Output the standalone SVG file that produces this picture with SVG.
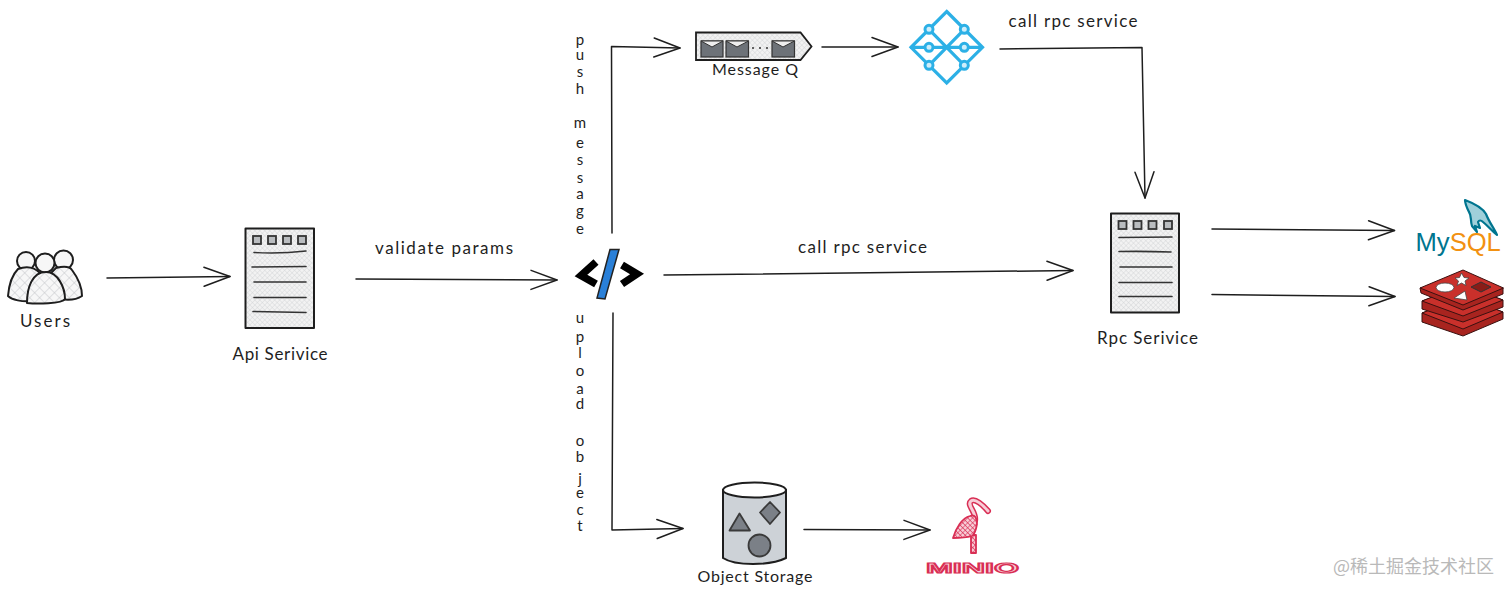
<svg xmlns="http://www.w3.org/2000/svg" width="1512" height="596" viewBox="0 0 1512 596">
<style>
.c{fill:none;stroke:#1e1e1e;stroke-width:1.5;stroke-linecap:round;stroke-linejoin:round;marker-end:url(#arr)}
.t{font-family:"Lato","Open Sans","Noto Sans",sans-serif;font-size:17px;fill:#1e1e1e;text-anchor:middle}
.v{font-size:15px}
.o{stroke:#1e1e1e;stroke-width:2;stroke-linejoin:round}
.sq{fill:#b9bcbf;stroke:#333;stroke-width:1.8}
.ln{stroke:#333;stroke-width:1.6;stroke-linecap:round;fill:none}
.blue{fill:none;stroke:#2cb0e6;stroke-width:3.200}
.env{fill:#6d7278;stroke:#333;stroke-width:1.2}
.flap{fill:#eee;stroke:#333;stroke-width:1}
.shape{fill:#7b8087;stroke:#3a3a3a;stroke-width:1.8;stroke-linejoin:round}
.red1{fill:#c9302b;stroke:#3a1110;stroke-width:1;stroke-linejoin:round}
.red2{fill:#a8241f;stroke:#3a1110;stroke-width:1;stroke-linejoin:round}
.pink{stroke:#d92e54;stroke-width:1.8;stroke-linejoin:round;stroke-linecap:round}
</style>
<defs>
<marker id="arr" markerUnits="userSpaceOnUse" markerWidth="30" markerHeight="26" refX="27" refY="12" orient="auto" overflow="visible">
<path d="M1 2.500L27 12L1 21.500" fill="none" stroke="#1e1e1e" stroke-width="1.500" stroke-linecap="round" stroke-linejoin="round"/>
</marker>
<pattern id="hatch" width="7" height="7" patternUnits="userSpaceOnUse" patternTransform="rotate(45)">
<rect width="7" height="7" fill="#f7f7f7"/>
<path d="M0 0H7M0 0V7" stroke="#c4c6c9" stroke-width="1"/>
</pattern>
<pattern id="fine" width="3.500" height="3.500" patternUnits="userSpaceOnUse" patternTransform="rotate(45)">
<rect width="3.500" height="3.500" fill="#f2f2f2"/>
<path d="M0 0H3.500M0 0V3.500" stroke="#cfd1d3" stroke-width="0.800"/>
</pattern>
<pattern id="pinkh" width="3.500" height="3.500" patternUnits="userSpaceOnUse" patternTransform="rotate(45)">
<rect width="3.500" height="3.500" fill="#f7cdd7"/>
<path d="M0 0H3.500M0 0V3.500" stroke="#d92e54" stroke-width="1.100"/>
</pattern>
</defs>
<rect width="1512" height="596" fill="#fff"/>
<g id="connectors">
<path class="c" d="M107 278L230 276.500"/>
<path class="c" d="M356 279L557 280"/>
<path class="c" d="M612 233L611.500 46.500L680 48"/>
<path class="c" d="M613 313L612 530L683 528.500"/>
<path class="c" d="M664 275L1073 270.500"/>
<path class="c" d="M822 47L898 47"/>
<path class="c" d="M1000 49L1142 47.500L1145 198"/>
<path class="c" d="M804 529.500L930 530"/>
<path class="c" d="M1212 229L1394.500 230.500"/>
<path class="c" d="M1212 294.500L1395 296.500"/>
</g>
<g id="users">
<circle class="o" cx="26" cy="261" r="9" fill="#f7f7f7"/>
<circle class="o" cx="63.500" cy="260" r="9.500" fill="#f7f7f7"/>
<path class="o" fill="url(#hatch)" d="M18 269C26 266 34 267 40 273L32 301C22 302 12 300 8 296C9 284 12 275 18 269Z"/>
<path class="o" fill="url(#hatch)" d="M56 268C64 266 70 267 72 270C78 278 82 288 82 296C76 300 66 300 60 299L50 274Z"/>
<circle class="o" cx="45" cy="263" r="9.500" fill="#f7f7f7"/>
<path class="o" fill="url(#hatch)" d="M46 272C58 272 65 288 65 299C62 304 36 304 27 303C27 288 32 272 46 272Z"/>
<text class="t" x="45" y="327" textLength="50">Users</text>
</g>
<g id="api-service">
<rect class="o" x="245.500" y="228.500" width="68.500" height="99.500" fill="url(#fine)"/>
<rect class="sq" x="253" y="236" width="8" height="8"/>
<rect class="sq" x="268" y="236" width="8" height="8"/>
<rect class="sq" x="283" y="236" width="8" height="8"/>
<rect class="sq" x="298" y="236" width="8" height="8"/>
<path class="ln" d="M254 252.500Q280 254 306 251M252 267Q280 267 306 266.500M254 282H306M254 297.500H306M253 311.500L306 312.500"/>
<text class="t" x="280" y="360" textLength="95">Api Serivice</text>
</g>
<g id="validate-label"><text class="t" x="444" y="254" textLength="138">validate params</text></g>
<g id="code-gateway">
<path d="M596 262L581 275.500L596 284" fill="none" stroke="#000" stroke-width="7.500" stroke-linejoin="miter"/>
<path d="M622 265L637 274L622 284" fill="none" stroke="#000" stroke-width="7.500" stroke-linejoin="miter"/>
<path d="M610 249.500L619 249.500L605 299L597 298Z" fill="#2a80d8" stroke="#222" stroke-width="1.500"/>
</g>
<g id="push-label"><text class="t v" x="580 580 580 580" y="45 60 77 94">push</text><text class="t v" x="580 580 580 580 580 580 580" y="128 148 165 183 199 216 234">message</text></g>
<g id="upload-label"><text class="t v" x="580 580 580 580 580 580" y="323 342 358 376 394 409">upload</text><text class="t v" x="580 580 580 580 580 580" y="446 462 484 498 515 531">object</text></g>
<g id="message-q">
<path d="M696 32.500H800.500L811.500 46.500L800.500 60H696Z" fill="url(#fine)" stroke="#1e1e1e" stroke-width="1.800"/>
<rect class="env" x="701" y="41" width="22" height="16"/><path class="flap" d="M701 41H723L712 47Z"/>
<rect class="env" x="726" y="41" width="22.500" height="16"/><path class="flap" d="M726 41H748.500L737 47Z"/>
<rect class="env" x="772" y="41" width="22.500" height="16"/><path class="flap" d="M772 41H794.500L783 47Z"/>
<path d="M752 48H770" stroke="#333" stroke-width="1.500" stroke-dasharray="2 5" fill="none"/>
<text class="t" x="755" y="75" textLength="86" style="font-size:16px">Message Q</text>
</g>
<g id="rpc-hub">
<path class="blue" d="M946.700 11.500L982.500 47.300L946.700 83L911 47.300ZM910 47.300H983.300M929 29.300L964.300 65.300M964.300 29.300L929 65.300"/>
<g fill="#cfeefb" stroke="#2cb0e6" stroke-width="3">
<circle cx="929" cy="29.300" r="4"/><circle cx="964.300" cy="29.300" r="4"/>
<circle cx="929" cy="47.300" r="4"/><circle cx="964.300" cy="47.300" r="4"/>
<circle cx="929" cy="65.300" r="4"/><circle cx="964.300" cy="65.300" r="4"/>
</g>
</g>
<g id="call-labels">
<text class="t" x="1073" y="27" textLength="129">call rpc service</text>
<text class="t" x="862.500" y="253" textLength="129">call rpc service</text>
</g>
<g id="rpc-service">
<rect class="o" x="1111" y="213.500" width="68" height="99" fill="url(#fine)"/>
<rect class="sq" x="1118.500" y="221" width="8" height="8"/>
<rect class="sq" x="1133.500" y="221" width="8" height="8"/>
<rect class="sq" x="1148.500" y="221" width="8" height="8"/>
<rect class="sq" x="1164" y="221" width="8" height="8"/>
<path class="ln" d="M1119 237.500L1172 237M1119 251.500Q1145 251 1171 252M1120 267H1172M1119 282.500H1172M1119 296.500H1172"/>
<text class="t" x="1147.500" y="344" textLength="101">Rpc Serivice</text>
</g>
<g id="mysql">
<path d="M1465 200C1473 203 1482 207 1486 214C1489 222 1494 228 1497 235C1492 231 1488 226 1483 222C1481 220 1479 220 1478 222L1480 228L1475 226L1477 232L1472 226C1470 220 1472 216 1469 212C1467 208 1465 204 1465 200Z" fill="#9fd0da" stroke="#00758f" stroke-width="2.200" stroke-linejoin="round"/>
<text x="1415.500" y="250.500" font-family="'Liberation Sans',Arial,sans-serif" font-size="25.600"><tspan fill="#00758f">My</tspan><tspan fill="#f29111">SQL</tspan></text>
</g>
<g id="redis">
<path class="red2" d="M1422 313L1463 298L1503 312V319L1463 336L1422 322Z"/>
<path class="red1" d="M1422 313L1463 297L1503 312L1463 329Z"/>
<path class="red2" d="M1422 301L1463 286L1503 300V307L1463 322L1422 309Z"/>
<path class="red1" d="M1422 301L1463 285L1503 300L1463 316Z"/>
<path class="red2" d="M1420 288L1421 293L1463 310L1503 294V288Z"/>
<path class="red1" d="M1420 288L1463 270L1503.500 288L1463 305Z"/>
<ellipse cx="1445" cy="287.500" rx="9" ry="4.500" fill="#fff" stroke="#444" stroke-width="0.800"/>
<path d="M1461.500 273L1464 277.500L1469 278L1465 281L1466 285.500L1461.500 283L1457 285.500L1458.500 281L1455 278L1459.500 277.500Z" fill="#fff" stroke="#444" stroke-width="0.800"/>
<path d="M1465 291L1467 300L1454 298Z" fill="#fff" stroke="#444" stroke-width="0.800"/>
<path d="M1481 282L1491 287L1481 292L1471 287Z" fill="#8a1c17" stroke="#333" stroke-width="1"/>
</g>
<g id="object-storage">
<path d="M723 490V558C735 566 770 566 786 558V490Z" fill="#cdd2d7" stroke="#1e1e1e" stroke-width="2"/>
<ellipse cx="754.500" cy="490" rx="31.500" ry="7.500" fill="#fff" stroke="#1e1e1e" stroke-width="2"/>
<path class="shape" d="M739.500 513.500L750 530.500H729.500Z"/>
<path class="shape" d="M770 502L780 512.500L770 524L760 512.500Z"/>
<circle class="shape" cx="759.500" cy="545.500" r="11"/>
<text class="t" x="755" y="582" textLength="115" style="font-size:16px">Object Storage</text>
</g>
<g id="minio">
<path d="M975 521C977 512 966 505 971 501C975 498 983 505 988 511" fill="none" stroke="#d92e54" stroke-width="6" stroke-linecap="round"/>
<path d="M975 521C977 512 966 505 971 501C975 498 983 505 988 511" fill="none" stroke="#f7cdd7" stroke-width="3" stroke-linecap="round"/>
<path class="pink" fill="url(#pinkh)" d="M971 535H976V553H971Z"/>
<path class="pink" fill="url(#pinkh)" d="M953 538C956 528 962 518 970 516C975 514 977 518 977 524C976 530 975 534 972 536C965 538 958 538 953 538Z"/>
<text x="972.500" y="573" font-family="'Liberation Sans',Arial,sans-serif" font-size="15" font-weight="700" text-anchor="middle" textLength="93" lengthAdjust="spacingAndGlyphs" fill="#f7cdd7" stroke="#d92e54" stroke-width="1.200">MINIO</text>
</g>
<g id="watermark"><text x="1333" y="573" font-family="'Noto Sans CJK SC','Liberation Sans',sans-serif" font-size="18" fill="#b9b9b9">@稀土掘金技术社区</text></g>
</svg>
